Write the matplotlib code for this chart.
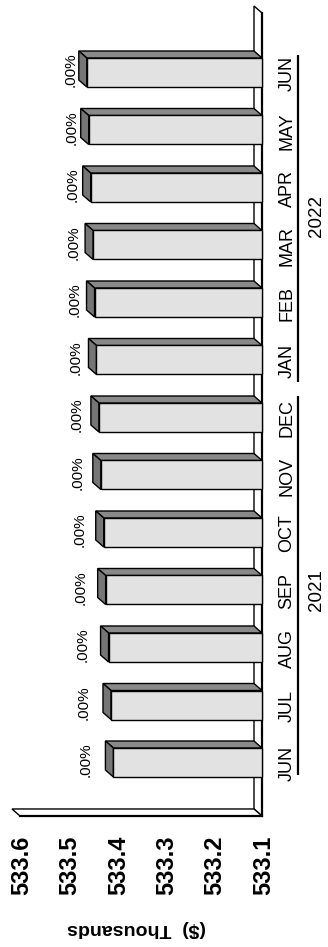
import numpy as np
import matplotlib.pyplot as plt
from matplotlib.patches import Polygon

plt.rcParams['font.family'] = ['Liberation Sans', 'DejaVu Sans']

# monthly balance, thousands of dollars
months = ['JUN', 'JUL', 'AUG', 'SEP', 'OCT', 'NOV', 'DEC',
          'JAN', 'FEB', 'MAR', 'APR', 'MAY', 'JUN']
balances = [533.407, 533.412, 533.417, 533.423, 533.427, 533.433, 533.437,
            533.442, 533.446, 533.449, 533.454, 533.458, 533.462]
pct_labels = ['.00%'] * len(months)
years = ['2021', '2022']
year_groups = [(0, 6), (7, 12)]
value_ticks = [533.1, 533.2, 533.3, 533.4, 533.5, 533.6]
axis_label = '($)  Thousands'

W, H = 328, 947
base, top_val = value_ticks[0], value_ticks[-1]
PX_X = 1 / 484.0          # value units per pixel (horizontal)
PX_Y = 1 / 57.5           # category units per pixel (vertical)
DX, DY = 8 * PX_X, 7 * PX_Y   # depth of the 3D effect
LW = 1.0

fig = plt.figure(figsize=(W / 100, H / 100), dpi=100)
ax = fig.add_axes([0, 0, 1, 1])
ax.set_xlim(base + 262 * PX_X, base - (W - 262) * PX_X)   # values grow to the left
ax.set_ylim(-184.5 * PX_Y, (H - 184.5) * PX_Y)
ax.axis('off')

# floor and side wall slabs
y_lo, y_hi = -0.93, 13.035
floor = [(base, y_lo), (base, y_hi), (base + DX, y_hi + DY), (base + DX, y_lo + DY)]
wall = [(base, y_lo), (top_val, y_lo), (top_val + DX, y_lo + DY), (base + DX, y_lo + DY)]
for pts in (floor, wall):
    ax.add_patch(Polygon(pts, closed=True, facecolor='white', edgecolor='black',
                         linewidth=LW, zorder=1))
ax.plot([base, base], [y_lo, y_hi], color='black', lw=1.6, zorder=1.5)
ax.plot([base, top_val], [y_lo, y_lo], color='black', lw=1.6, zorder=1.5)

# bars with side and top faces
y = np.arange(len(months))
n = len(months)
h = 29 * PX_Y
vals = np.array(balances)
ax.barh(y, vals - base, left=base, height=h, color='#e2e2e2',
        edgecolor='black', linewidth=LW, zorder=3)
for yi, v, lab in zip(y, vals, pct_labels):
    t, b = yi + h / 2, yi - h / 2
    side = [(base, t), (v, t), (v + DX, t + DY), (base + DX, t + DY)]
    cap = [(v, b), (v, t), (v + DX, t + DY), (v + DX, b + DY)]
    ax.add_patch(Polygon(side, closed=True, facecolor='#898989',
                         edgecolor='black', linewidth=LW, zorder=2.5))
    ax.add_patch(Polygon(cap, closed=True, facecolor='#767676',
                         edgecolor='black', linewidth=LW, zorder=2.6))
    # label gap narrows toward the later months
    gap = 1 + (n - 1 - yi) * 1.0
    ax.text(v + DX + gap * PX_X, yi + 2.5 * PX_Y, lab, rotation=90,
            ha='right', va='center', fontsize=11)

# month labels
for yi, m in zip(y, months):
    ax.text(base - 25 * PX_X, yi - 1 * PX_Y, m, rotation=90,
            ha='center', va='center', fontsize=13)

# year labels with group lines
for yr, (i0, i1) in zip(years, year_groups):
    lo = i0 - 0.5 + (0.28 if i0 == 0 else 0.12)
    hi = i1 + 0.5 - (0.2 if i1 == n - 1 else 0.12)
    ax.plot([base - 36 * PX_X] * 2, [lo, hi], color='black', lw=1.6,
            solid_capstyle='butt', clip_on=False)
    ax.text(base - 55 * PX_X, (i0 + i1) / 2, yr, rotation=90,
            ha='center', va='center', fontsize=13.5)

# value axis tick labels
for v in value_ticks:
    ax.text(v - 1.5 * PX_X, -102.5 * PX_Y, f'{v:.1f}', rotation=90,
            ha='center', va='center', fontsize=17, fontweight='bold')

fig.text(137 / W, 19 / H, axis_label, rotation=180, ha='center', va='center',
         fontsize=14, fontweight='bold')

fig.savefig('out.png', dpi=100)
